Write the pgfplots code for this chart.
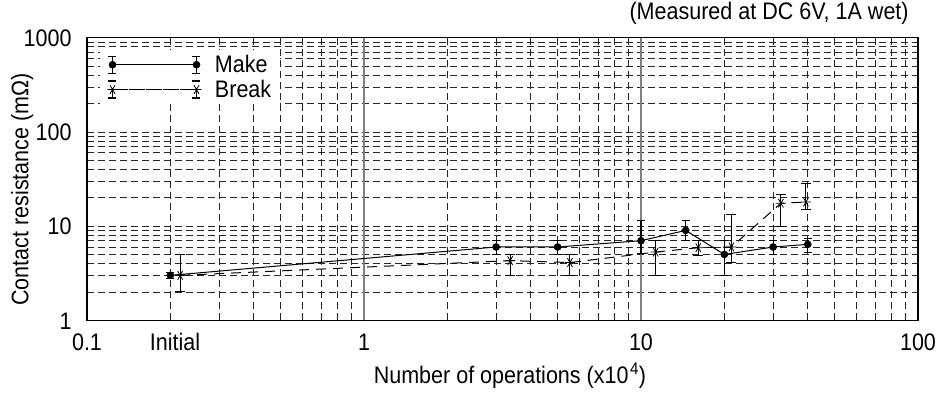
\documentclass[border=0pt]{standalone}
\usepackage{fontspec}
\setmainfont{Liberation Sans}[FakeStretch=0.9]
\usepackage{pgfplots}
\pgfplotsset{compat=1.18}
\usepackage{pgfplotstable}

\pgfplotstableread{
x y ep em
0.2 3 0.2 0.2
3 6 1 1
5 6 1 1
10 7 4.5 1.9
14.5 9 2.5 1.9
20 5 2 2
30 6 1 1
40 6.4 1 1.1
}\makedata

\pgfplotstableread{
x y ep em
0.217 3 2 1
3.37 4.3 0.7 1.3
5.54 4.1 0.9 1.1
11.3 5.3 1.7 2.3
16.1 5.9 1.2 1
21.2 6 7.3 1.9
32 17.5 4.2 7.5
39.4 18 10.4 3
}\breakdata

\pgfplotsset{
  makeleg/.style={legend image code/.code={
    \draw[black,line width=1bp] (0bp,0bp)--(84bp,0bp);
    \draw[black,line width=1.1bp] (0bp,-8.5bp)--(0bp,8.5bp) (-4bp,-8.5bp)--(4bp,-8.5bp) (-4bp,8.5bp)--(4bp,8.5bp)
      (84bp,-8.5bp)--(84bp,8.5bp) (80bp,-8.5bp)--(88bp,-8.5bp) (80bp,8.5bp)--(88bp,8.5bp);
    \fill[black] (0bp,0bp) circle (3.3bp) (84bp,0bp) circle (3.3bp);
    \path (100bp,0bp);
  }},
  breakleg/.style={legend image code/.code={
    \draw[black,line width=1bp,dash pattern=on 10bp off 7bp,dash phase=-6bp] (0bp,0bp)--(84bp,0bp);
    \draw[black,line width=1.1bp] (0bp,-8.5bp)--(0bp,8.5bp) (-4bp,-8.5bp)--(4bp,-8.5bp) (-4bp,8.5bp)--(4bp,8.5bp)
      (84bp,-8.5bp)--(84bp,8.5bp) (80bp,-8.5bp)--(88bp,-8.5bp) (80bp,8.5bp)--(88bp,8.5bp);
    \path[black,line width=0.8bp] plot[mark=asterisk,mark size=5bp,mark options={rotate=90}] coordinates {(0bp,0bp) (84bp,0bp)};
    \path (100bp,0bp);
  }},
}

\begin{document}
\begin{tikzpicture}[font=\fontsize{24}{28}\selectfont]
\useasboundingbox (0,0) rectangle (949bp,393bp);
\begin{axis}[
  at={(87bp,72.7bp)}, anchor=south west,
  scale only axis, width=831bp, height=282.6bp,
  xmode=log, ymode=log,
  xmin=0.1, xmax=100, ymin=1, ymax=1000,
  xtick={0.1,1,10,100}, xticklabels={0.1,1,10,100},
  ytick={1,10,100,1000}, yticklabels={1,10,100,1000},
  minor xtick={0.2,0.3,0.4,0.5,0.6,0.7,0.8,0.9,2,3,4,5,6,7,8,9,20,30,40,50,60,70,80,90},
  minor ytick={2,3,4,5,6,7,8,9,20,30,40,50,60,70,80,90,200,300,400,500,600,700,800,900},
  extra x ticks={0.208}, extra x tick labels={Initial},
  extra x tick style={grid=none},
  major tick length=0pt, minor tick length=0pt,
  xminorgrids=true, yminorgrids=true, ymajorgrids=true, xmajorgrids=false,
  grid style={black!85, line width=0.7bp, dash pattern=on 7bp off 4bp},
  axis line style={line width=1.5bp},
  /pgf/number format/assume math mode=true,
  xticklabel style={anchor=base, yshift=-29.7bp, inner sep=0pt},
  yticklabel style={anchor=base east, xshift=-15.3bp, yshift=-8.7bp, inner sep=0pt},
  xlabel={Number of operations (x10\kern1.5bp\textsuperscript{4})},
  xlabel style={at={(axis description cs:0.509,-0.223)}, anchor=base, inner sep=0pt},
  ylabel={Contact resistance (mΩ)},
  ylabel style={at={(axis description cs:-0.0706,0.463)}, anchor=base, inner sep=0pt},
  title={(Measured at DC 6V, 1A wet)},
  title style={at={(axis description cs:0.989,1.045)}, anchor=base east, inner sep=0pt},
  legend style={at={(rel axis cs:0.016,0.956)}, anchor=north west, draw=none, fill=white,
    inner xsep=7bp, inner ysep=3bp, row sep=2bp, font=\fontsize{24}{28}\selectfont},
  legend cell align=left,
]
\draw[gray, line width=1.2bp] (axis cs:1,1) -- (axis cs:1,1000);
\draw[gray, line width=1.2bp] (axis cs:10,1) -- (axis cs:10,1000);
\addplot[black, line width=1bp, mark=*, mark size=3.3bp, mark options={solid}, makeleg,
  error bars/.cd, y dir=both, y explicit,
  error bar style={solid, line width=1.1bp},
  error mark options={rotate=90, solid, line width=1.1bp, mark size=4bp}]
  table[x=x, y=y, y error plus=ep, y error minus=em] {\makedata};
\addlegendentry{Make}
\addplot[black, line width=1bp, dash pattern=on 10bp off 7bp, mark=asterisk, mark size=5bp,
  mark options={solid, rotate=90, line width=0.8bp}, breakleg,
  error bars/.cd, y dir=both, y explicit,
  error bar style={solid, line width=1.1bp},
  error mark options={rotate=90, solid, line width=1.1bp, mark size=5bp}]
  table[x=x, y=y, y error plus=ep, y error minus=em] {\breakdata};
\addlegendentry{Break}
\end{axis}
\end{tikzpicture}
\end{document}
